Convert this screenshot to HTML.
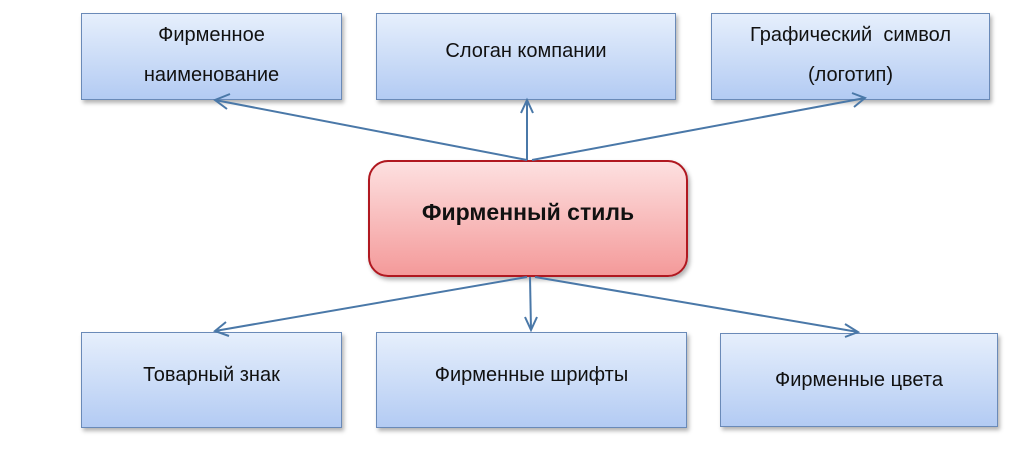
<!DOCTYPE html>
<html><head><meta charset="utf-8"><style>
body{margin:0;width:1024px;height:456px;background:#fff;position:relative;overflow:hidden;font-family:"Liberation Sans","Noto Sans CJK SC",sans-serif;}
.b{position:absolute;box-sizing:border-box;border:1.5px solid #6a8ab8;background:linear-gradient(#e6effc,#b3cbf3);box-shadow:2px 3px 4px rgba(0,0,0,0.3);display:flex;align-items:center;justify-content:center;text-align:center;font-size:20px;line-height:40px;color:#111;}
.c{position:absolute;left:368px;top:160px;width:320px;height:117px;box-sizing:border-box;border:2.5px solid #b01820;border-radius:20px;background:linear-gradient(#fde0e0,#f49a9a);box-shadow:2px 3px 4px rgba(0,0,0,0.3);display:flex;align-items:center;justify-content:center;font-weight:bold;font-size:23px;color:#111;padding-bottom:12px;}
svg{position:absolute;left:0;top:0;}
</style></head><body>
<div class="b" style="left:81px;top:13px;width:261px;height:87px;padding-bottom:3px;">Фирменное<br>наименование</div>
<div class="b" style="left:376px;top:13px;width:300px;height:87px;padding-bottom:12px;">Слоган компании</div>
<div class="b" style="left:711px;top:13px;width:279px;height:87px;padding-bottom:3px;">Графический&nbsp; символ<br>(логотип)</div>
<div class="c">Фирменный стиль</div>
<div class="b" style="left:81px;top:332px;width:261px;height:96px;padding-bottom:10px;">Товарный знак</div>
<div class="b" style="left:376px;top:332px;width:311px;height:96px;padding-bottom:10px;">Фирменные шрифты</div>
<div class="b" style="left:720px;top:333px;width:278px;height:94px;">Фирменные цвета</div>
<svg width="1024" height="456">
<g stroke="#4a78a8" stroke-width="2" fill="none">
<line x1="527" y1="160" x2="215" y2="100"/><polyline points="230,94 215,100 227,109"/>
<line x1="527" y1="160" x2="527" y2="100"/><polyline points="521,113 527,100 533,113"/>
<line x1="532" y1="160" x2="865" y2="98"/><polyline points="852,93 865,98 854,107"/>
<line x1="527" y1="277" x2="215" y2="331"/><polyline points="226,322 215,331 229,336"/>
<line x1="530" y1="277" x2="531" y2="330"/><polyline points="525,317 531,330 537,317"/>
<line x1="535" y1="277" x2="858" y2="332"/><polyline points="845,324 858,332 845,337"/>
</g></svg>
</body></html>
